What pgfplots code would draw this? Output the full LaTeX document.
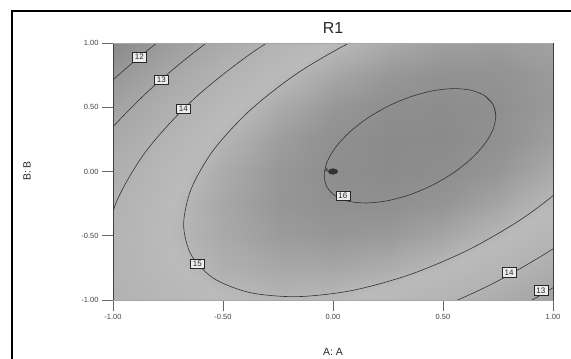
\documentclass[border=0pt]{standalone}
\usepackage{fontspec}
\setmainfont{Liberation Sans}
\usepackage{pgfplots}
\pgfplotsset{compat=1.18}

% grey scale for the fitted response (position = R1 - 11)
\pgfplotsset{
  colormap={resp}{gray(0cm)=(0.54) gray(1cm)=(0.60) gray(2cm)=(0.655)
    gray(3cm)=(0.70) gray(3.8cm)=(0.73) gray(4.3cm)=(0.665)
    gray(4.8cm)=(0.585) gray(5.2cm)=(0.54)},
}
\tikzset{
  clabel/.style={draw=black!85, fill=black!7, line width=0.5bp,
    inner xsep=2.6bp, inner ysep=1.9bp,
    font=\fontsize{8}{9}\selectfont, text=black!85},
}

\begin{document}
\begin{tikzpicture}[x=1bp,y=1bp]
\useasboundingbox (0,0) rectangle (571,358);

\begin{axis}[
  at={(113bp,58bp)}, anchor=south west,
  scale only axis, width=440bp, height=257bp,
  view={0}{90},
  xmin=-1, xmax=1, ymin=-1, ymax=1,
  xtick={-1,-0.5,0,0.5,1}, ytick={-1,-0.5,0,0.5,1}, ztick=\empty,
  xtick pos=left, ytick pos=left,
  tick align=outside, major tick length=11bp,
  tick style={draw=black!60, line width=0.6bp},
  axis line style={draw=none},
  colormap name=resp, point meta min=11, point meta max=16.2,
  /pgf/number format/.cd, fixed, fixed zerofill, precision=2,
  assume math mode=true, /pgfplots/.cd,
  ticklabel style={font=\fontsize{7.5}{8}\selectfont, text=black!75},
  clip=true,
]

% fitted response surface on a 9 x 9 grid
\addplot3[surf, shader=interp, point meta=\thisrow{Y}] table {
A B Y
-1 -1 13.908
-0.75 -1 14.443
-0.5 -1 14.780
-0.25 -1 14.920
0 -1 14.862
0.25 -1 14.607
0.5 -1 14.154
0.75 -1 13.503
1 -1 12.655

-1 -0.75 14.073
-0.75 -0.75 14.698
-0.5 -0.75 15.126
-0.25 -0.75 15.356
0 -0.75 15.388
0.25 -0.75 15.223
0.5 -0.75 14.860
0.75 -0.75 14.300
1 -0.75 13.542

-1 -0.5 14.086
-0.75 -0.5 14.801
-0.5 -0.5 15.319
-0.25 -0.5 15.639
0 -0.5 15.762
0.25 -0.5 15.687
0.5 -0.5 15.415
0.75 -0.5 14.945
1 -0.5 14.277

-1 -0.25 13.947
-0.75 -0.25 14.753
-0.5 -0.25 15.361
-0.25 -0.25 15.771
0 -0.25 15.984
0.25 -0.25 15.999
0.5 -0.25 15.817
0.75 -0.25 15.437
1 -0.25 14.860

-1 0 13.657
-0.75 0 14.553
-0.5 0 15.251
-0.25 0 15.752
0 0 16.055
0.25 0 16.161
0.5 0 16.069
0.75 0 15.779
1 0 15.292

-1 0.25 13.215
-0.75 0.25 14.201
-0.5 0.25 14.990
-0.25 0.25 15.581
0 0.25 15.974
0.25 0.25 16.170
0.5 0.25 16.168
0.75 0.25 15.969
1 0.25 15.572

-1 0.5 12.623
-0.75 0.5 13.699
-0.5 0.5 14.577
-0.25 0.5 15.258
0 0.5 15.742
0.25 0.5 16.028
0.5 0.5 16.117
0.75 0.5 16.008
1 0.5 15.701

-1 0.75 11.878
-0.75 0.75 13.044
-0.5 0.75 14.013
-0.25 0.75 14.784
0 0.75 15.358
0.25 0.75 15.734
0.5 0.75 15.913
0.75 0.75 15.894
1 0.75 15.678

-1 1 10.981
-0.75 1 12.237
-0.5 1 13.296
-0.25 1 14.158
0 1 14.822
0.25 1 15.288
0.5 1 15.557
0.75 1 15.629
1 1 15.503
};

% contour lines
\addplot3[smooth, draw=black!80, line width=0.6bp] coordinates {
(0.740,0.432,16) (0.727,0.522,16) (0.688,0.591,16) (0.626,0.633,16)
(0.545,0.645,16) (0.451,0.627,16) (0.350,0.580,16) (0.249,0.507,16)
(0.155,0.413,16) (0.074,0.304,16) (0.012,0.189,16) (-0.027,0.074,16)
(-0.040,-0.032,16) (-0.027,-0.122,16) (0.012,-0.191,16) (0.074,-0.233,16)
(0.155,-0.245,16) (0.249,-0.227,16) (0.350,-0.180,16) (0.451,-0.107,16)
(0.545,-0.013,16) (0.626,0.096,16) (0.688,0.211,16) (0.727,0.326,16)
(0.740,0.432,16) (0.727,0.522,16) (0.688,0.591,16)
};
\addplot3[smooth, draw=black!80, line width=0.6bp] coordinates {
(0.350,1.202,15) (0.084,1.009,15) (-0.165,0.761,15) (-0.378,0.475,15)
(-0.542,0.170,15) (-0.644,-0.133,15) (-0.679,-0.413,15) (-0.644,-0.651,15)
(-0.542,-0.832,15) (-0.378,-0.942,15) (-0.165,-0.974,15) (0.084,-0.927,15)
(0.350,-0.802,15) (0.616,-0.609,15) (0.865,-0.361,15) (1.078,-0.075,15)
(1.242,0.230,15)
};
\addplot3[smooth, draw=black!80, line width=0.6bp] coordinates {
(0.35,1.548,14) (-0.008,1.288,14) (-0.342,0.955,14) (-0.629,0.570,14)
(-0.849,0.160,14) (-0.987,-0.247,14) (-1.034,-0.624,14)
};
\addplot3[smooth, draw=black!80, line width=0.6bp] coordinates {
(-0.008,-1.315,14) (0.35,-1.148,14) (0.708,-0.888,14) (1.042,-0.555,14)
(1.329,-0.170,14)
};
\addplot3[smooth, draw=black!80, line width=0.6bp] coordinates {
(-0.081,1.509,13) (-0.483,1.108,13) (-0.664,0.883,13) (-0.827,0.645,13)
(-0.971,0.401,13) (-1.092,0.152,13) (-1.258,-0.338,13)
};
\addplot3[smooth, draw=black!80, line width=0.6bp] coordinates {
(0.35,-1.421,13) (0.781,-1.109,13) (0.987,-0.918,13) (1.183,-0.708,13)
(1.527,-0.245,13)
};
\addplot3[smooth, draw=black!80, line width=0.6bp] coordinates {
(-0.144,1.702,12) (-0.606,1.242,12) (-0.813,0.984,12) (-1.001,0.711,12)
(-1.166,0.430,12) (-1.305,0.145,12)
};

% design point (centre, 4 runs)
\addplot3[only marks, mark=*, mark size=2.8bp,
  mark options={xscale=1.7, fill=black!80, draw=black!80}]
  coordinates {(0,0,16.055)};
\node[font=\fontsize{6.5}{7}\selectfont, text=black!85, anchor=east,
  inner sep=0pt, xshift=-4.5bp, yshift=0.8bp]
  at (axis cs:0,0,16) {4};

% contour labels
\node[clabel] at (axis cs:-0.88,0.89,12) {12};
\node[clabel] at (axis cs:-0.78,0.715,13) {13};
\node[clabel] at (axis cs:-0.68,0.49,14) {14};
\node[clabel] at (axis cs:-0.617,-0.718,15) {15};
\node[clabel] at (axis cs:0.045,-0.19,16) {16};
\node[clabel] at (axis cs:0.80,-0.785,14) {14};
\node[clabel] at (axis cs:0.945,-0.925,13) {13};
\end{axis}

% plot border
\draw[black!75, line width=0.8bp] (113,58) -- (113,315);
\draw[black!75, line width=0.8bp] (553,58) -- (553,315);
\draw[black!35, line width=0.8bp] (113,315) -- (553,315);
\draw[black!35, line width=0.8bp] (113,58) -- (553,58);

% titles
\node[font=\fontsize{16}{18}\selectfont, text=black!85] at (333,330) {R1};
\node[font=\fontsize{10.5}{12}\selectfont, text=black!85] at (333,6) {A: A};
\node[font=\fontsize{10.5}{12}\selectfont, text=black!85, rotate=90] at (27,187) {B: B};

% outer frame
\draw[black, line width=1.8bp] (12,-20) -- (12,347) -- (600,347);
\end{tikzpicture}
\end{document}
